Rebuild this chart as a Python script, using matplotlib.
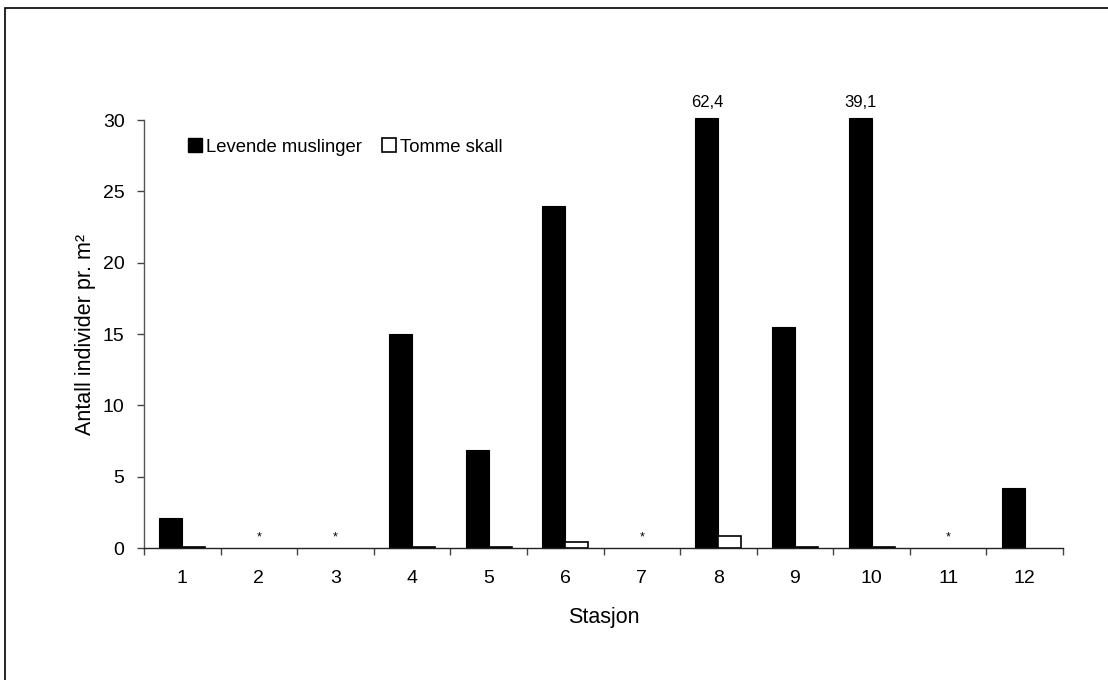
import matplotlib
matplotlib.use("Agg")
import matplotlib.pyplot as plt
import numpy as np
from matplotlib.patches import Rectangle, Patch

plt.rcParams['font.family'] = ['Liberation Sans', 'DejaVu Sans']

stations = ["1", "2", "3", "4", "5", "6", "7", "8", "9", "10", "11", "12"]
levende = [2.1, np.nan, np.nan, 15.0, 6.9, 24.0, np.nan, 62.4, 15.5, 39.1, np.nan, 4.2]
tomme = [0.05, np.nan, np.nan, 0.05, 0.05, 0.4, np.nan, 0.85, 0.08, 0.06, np.nan, 0.0]
overflow_labels = {7: "62,4", 9: "39,1"}
ymax = 30

fig = plt.figure(figsize=(11.08, 6.8), dpi=100)
ax = fig.add_axes([0.13, 0.1941, 0.8294, 0.6294])

x = np.arange(len(stations))
w = 0.3
lev = np.array(levende)
tom = np.array(tomme)
ok = ~np.isnan(lev)
ax.bar(x[ok] - w / 2, np.minimum(lev[ok], ymax + 0.15), width=w, color="black",
       edgecolor="black", linewidth=0.8, clip_on=False)
ok2 = ~np.isnan(tom) & (np.nan_to_num(tom) > 0)
ax.bar(x[ok2] + w / 2, tom[ok2], width=w, color="white", edgecolor="black",
       linewidth=1.2, clip_on=False)

for i, v in enumerate(levende):
    if np.isnan(v):
        ax.text(x[i], 0.75, "*", ha="center", va="center", fontsize=9)
for i, lab in overflow_labels.items():
    ax.text(x[i] - w / 2, ymax + 0.7, lab, ha="center", va="bottom", fontsize=12)

ax.set_xlim(-0.5, len(stations) - 0.5)
ax.set_ylim(0, ymax)
ax.set_yticks(np.arange(0, 31, 5))
ax.set_xticks(np.arange(-0.5, len(stations), 1.0))
ax.set_xticklabels([])
ax.set_xticks(x, minor=True)
ax.set_xticklabels(stations, minor=True)
ax.tick_params(axis="x", which="minor", length=0, pad=16, labelsize=14)
ax.tick_params(axis="x", which="major", length=5, direction="out", width=1, color="#444444")
ax.tick_params(axis="y", length=5, direction="out", width=1, color="#444444", labelsize=14, pad=9)
for s in ["top", "right"]:
    ax.spines[s].set_visible(False)
for s in ["left", "bottom"]:
    ax.spines[s].set_linewidth(1)
ax.spines["left"].set_color("#555555")
ax.spines["bottom"].set_color("#222222")

ax.set_xlabel("Stasjon", fontsize=15.5, labelpad=14)
ax.set_ylabel("Antall individer pr. m²", fontsize=15.5, labelpad=5)

handles = [Patch(facecolor="black", edgecolor="black"),
           Patch(facecolor="white", edgecolor="black", linewidth=1.2)]
ax.legend(handles, ["Levende muslinger", "Tomme skall"], ncol=2, frameon=False,
          loc="upper left", bbox_to_anchor=(0.028, 1.0), fontsize=13.3,
          handlelength=0.75, handleheight=0.75, handletextpad=0.2, columnspacing=1.1,
          borderaxespad=0.6)

fig.patches.append(Rectangle((5 / 1108, -0.05), 1.2, 1 - 8 / 680 + 0.05, transform=fig.transFigure,
                             fill=False, edgecolor="black", linewidth=1.2))

fig.savefig("out.png", dpi=100)
